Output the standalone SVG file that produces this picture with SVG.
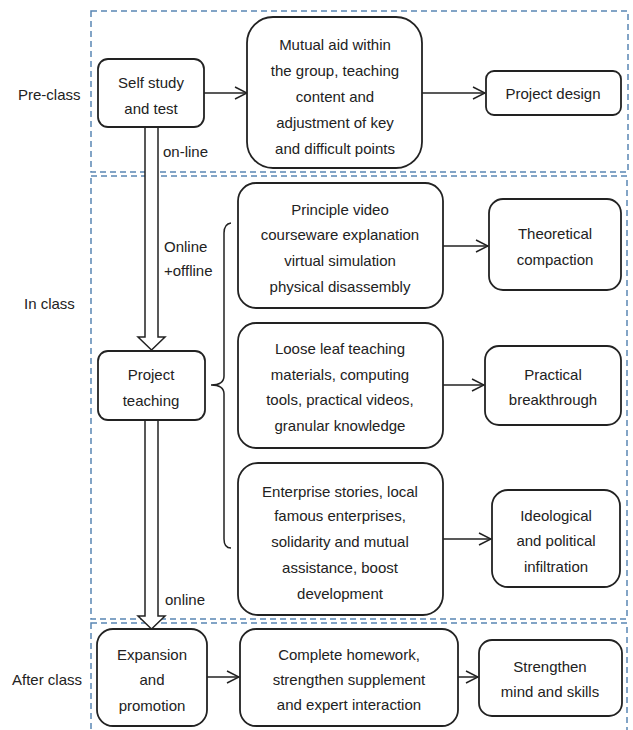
<svg xmlns="http://www.w3.org/2000/svg" width="633" height="730" viewBox="0 0 633 730">
<defs>
<style>
.sec{fill:none;stroke:#5a86b4;stroke-width:1.5;stroke-dasharray:6 4}
.box{fill:#fff;stroke:#222;stroke-width:1.8}
.t{font-family:"Liberation Sans",Arial,sans-serif;font-size:15px;fill:#222;text-anchor:middle;dominant-baseline:central}
.lbl{font-family:"Liberation Sans",Arial,sans-serif;font-size:15px;fill:#222;dominant-baseline:central}
.ln{fill:none;stroke:#222;stroke-width:1.5}
.big{fill:#fff;stroke:#222;stroke-width:1.5}
</style>
<marker id="ah" markerUnits="userSpaceOnUse" markerWidth="14" markerHeight="14" viewBox="0 0 14 14" refX="13" refY="7" orient="auto">
<path d="M1,1 L13,7 L1,13" fill="none" stroke="#222" stroke-width="1.5"/>
</marker>
</defs>
<rect width="633" height="730" fill="#fff"/>
<g id="sections">
<rect class="sec" x="91" y="11" width="537" height="161"/>
<rect class="sec" x="91" y="176" width="536" height="443"/>
<rect class="sec" x="91" y="623" width="536" height="112"/>
<text class="lbl" x="18" y="94">Pre-class</text>
<text class="lbl" x="24" y="303">In class</text>
<text class="lbl" x="12" y="679">After class</text>
</g>
<g id="connectors">
<line class="ln" x1="204" y1="93" x2="247" y2="93" marker-end="url(#ah)"/>
<line class="ln" x1="422" y1="93" x2="485" y2="93" marker-end="url(#ah)"/>
<line class="ln" x1="443" y1="246" x2="488" y2="246" marker-end="url(#ah)"/>
<line class="ln" x1="443" y1="385" x2="484" y2="385" marker-end="url(#ah)"/>
<line class="ln" x1="443" y1="539" x2="491" y2="539" marker-end="url(#ah)"/>
<line class="ln" x1="207" y1="677" x2="239" y2="677" marker-end="url(#ah)"/>
<line class="ln" x1="458" y1="677" x2="478" y2="677" marker-end="url(#ah)"/>
<path class="big" d="M145,127 L158,127 L158,337 L165,337 L151.5,350 L138,337 L145,337 Z"/>
<path class="big" d="M145,420 L158,420 L158,616 L165,616 L151.5,629 L138,616 L145,616 Z"/>
<path class="ln" d="M231,223 Q224,224 224,233 L224,376 Q224,385 211,385 Q224,385 224,394 L224,539 Q224,548 231,548"/>
<text class="lbl" x="163" y="151">on-line</text>
<text class="lbl" x="164" y="246">Online</text>
<text class="lbl" x="164" y="270">+offline</text>
<text class="lbl" x="165" y="599">online</text>
</g>
<g id="self-study">
<rect class="box" x="98" y="59" width="106" height="68" rx="10"/>
<text class="t" x="151" y="82">Self study</text>
<text class="t" x="151" y="108">and test</text>
</g>
<g id="mutual-aid">
<rect class="box" x="247" y="17" width="175" height="151" rx="26"/>
<text class="t" x="335" y="44">Mutual aid within</text>
<text class="t" x="335" y="70">the group, teaching</text>
<text class="t" x="335" y="96">content and</text>
<text class="t" x="335" y="122">adjustment of key</text>
<text class="t" x="335" y="148">and difficult points</text>
</g>
<g id="project-design">
<rect class="box" x="486" y="71" width="135" height="44" rx="8"/>
<text class="t" x="553" y="93">Project design</text>
</g>
<g id="project-teaching">
<rect class="box" x="98" y="351" width="107" height="69" rx="10"/>
<text class="t" x="151" y="374">Project</text>
<text class="t" x="151" y="400">teaching</text>
</g>
<g id="principle-video">
<rect class="box" x="238" y="183" width="205" height="125" rx="18"/>
<text class="t" x="340" y="209">Principle video</text>
<text class="t" x="340" y="234">courseware explanation</text>
<text class="t" x="340" y="260">virtual simulation</text>
<text class="t" x="340" y="286">physical disassembly</text>
</g>
<g id="theoretical">
<rect class="box" x="489" y="199" width="132" height="91" rx="14"/>
<text class="t" x="555" y="233">Theoretical</text>
<text class="t" x="555" y="259">compaction</text>
</g>
<g id="loose-leaf">
<rect class="box" x="238" y="323" width="205" height="125" rx="18"/>
<text class="t" x="340" y="348">Loose leaf teaching</text>
<text class="t" x="340" y="374">materials, computing</text>
<text class="t" x="340" y="399">tools, practical videos,</text>
<text class="t" x="340" y="425">granular knowledge</text>
</g>
<g id="practical">
<rect class="box" x="485" y="346" width="136" height="79" rx="14"/>
<text class="t" x="553" y="374">Practical</text>
<text class="t" x="553" y="399">breakthrough</text>
</g>
<g id="enterprise">
<rect class="box" x="238" y="463" width="205" height="152" rx="20"/>
<text class="t" x="340" y="491">Enterprise stories, local</text>
<text class="t" x="340" y="515">famous enterprises,</text>
<text class="t" x="340" y="541">solidarity and mutual</text>
<text class="t" x="340" y="567">assistance, boost</text>
<text class="t" x="340" y="593">development</text>
</g>
<g id="ideological">
<rect class="box" x="492" y="490" width="128" height="97" rx="16"/>
<text class="t" x="556" y="515">Ideological</text>
<text class="t" x="556" y="540">and political</text>
<text class="t" x="556" y="566">infiltration</text>
</g>
<g id="expansion">
<rect class="box" x="97" y="629" width="110" height="97" rx="16"/>
<text class="t" x="152" y="654">Expansion</text>
<text class="t" x="152" y="679">and</text>
<text class="t" x="152" y="705">promotion</text>
</g>
<g id="homework">
<rect class="box" x="240" y="629" width="218" height="97" rx="16"/>
<text class="t" x="349" y="654">Complete homework,</text>
<text class="t" x="349" y="679">strengthen supplement</text>
<text class="t" x="349" y="704">and expert interaction</text>
</g>
<g id="strengthen">
<rect class="box" x="479" y="640" width="143" height="76" rx="13"/>
<text class="t" x="550" y="666">Strengthen</text>
<text class="t" x="550" y="691">mind and skills</text>
</g>
</svg>
